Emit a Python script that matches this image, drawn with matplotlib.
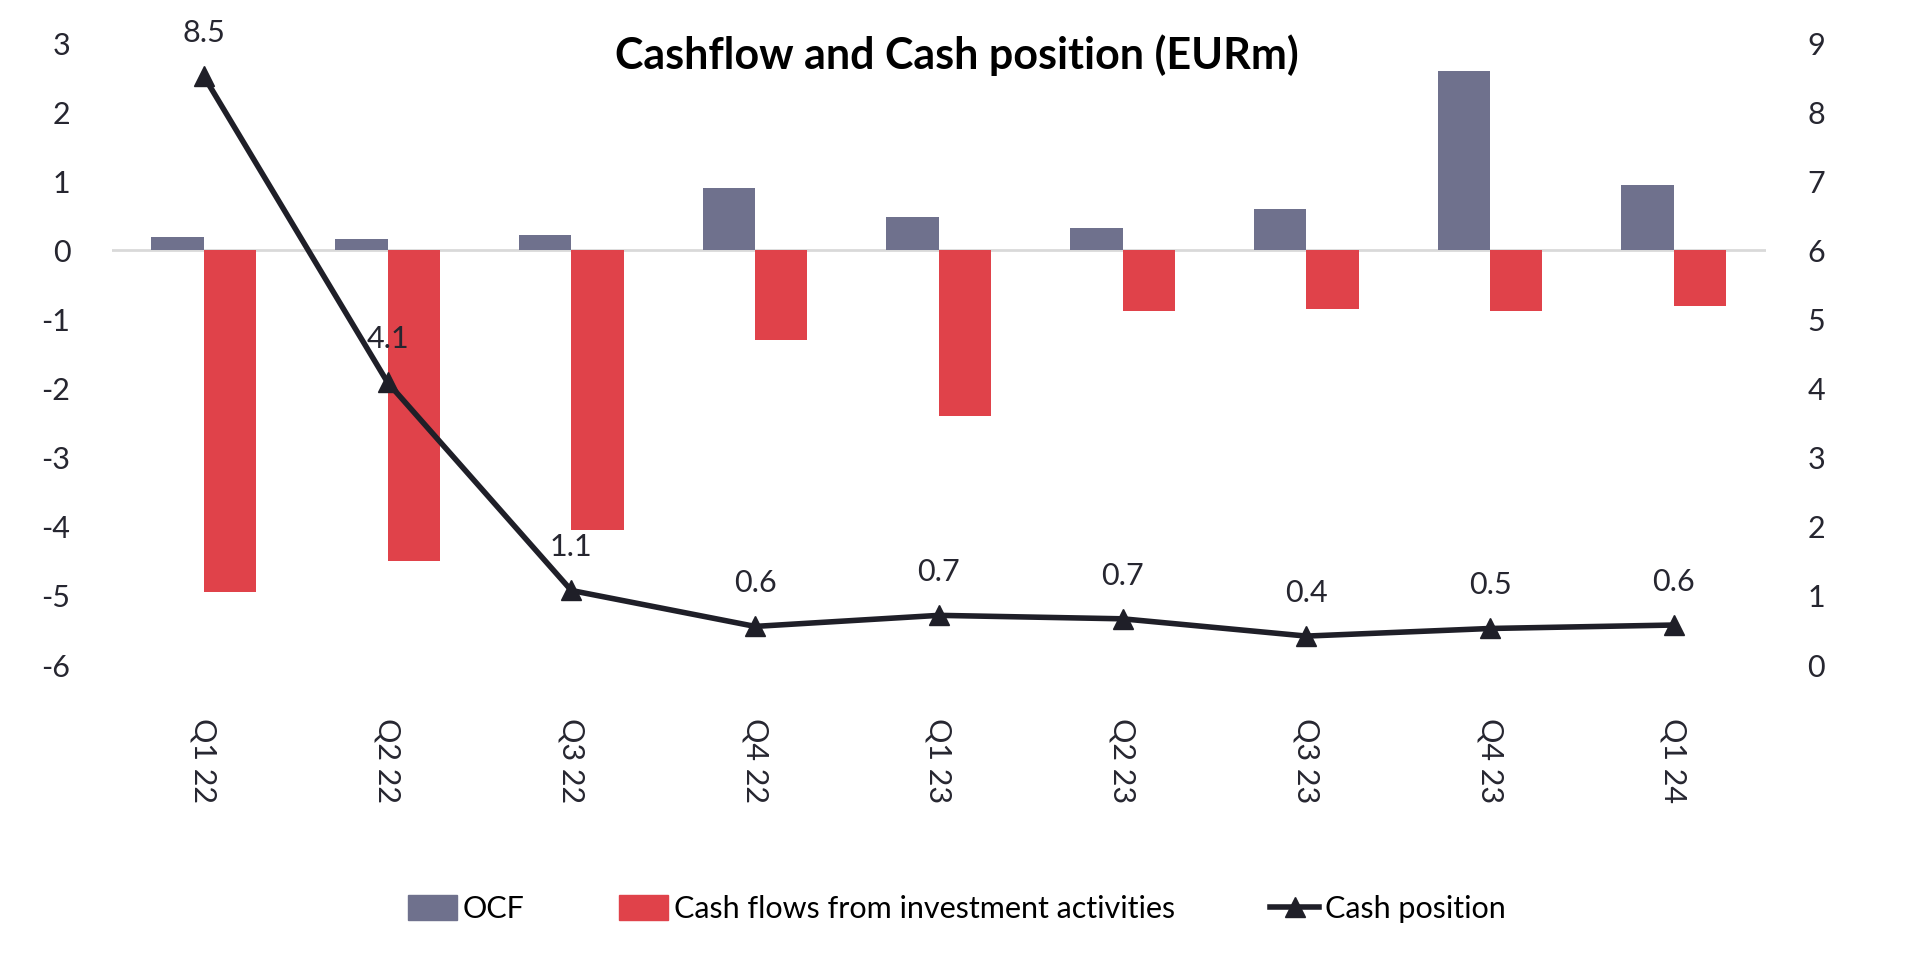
import matplotlib.pyplot as plt
import numpy as np
from matplotlib.patches import Patch
from matplotlib.lines import Line2D

plt.rcParams['font.family'] = ['Lato', 'DejaVu Sans']
plt.rcParams['axes.unicode_minus'] = False

quarters = ['Q1 22', 'Q2 22', 'Q3 22', 'Q4 22', 'Q1 23', 'Q2 23', 'Q3 23', 'Q4 23', 'Q1 24']
ocf = [0.19, 0.16, 0.22, 0.90, 0.48, 0.32, 0.60, 2.60, 0.95]
invest = [-4.94, -4.50, -4.05, -1.29, -2.39, -0.88, -0.85, -0.87, -0.80]
cash = [8.52, 4.09, 1.08, 0.56, 0.72, 0.67, 0.42, 0.53, 0.58]

c_ocf = '#6f718d'
c_inv = '#e0424a'
c_line = '#1f1f28'
c_text = '#262630'
fs = 22

fig = plt.figure(figsize=(19.14, 9.57), dpi=100)
ax = fig.add_axes([0.0585, 0.305, 0.864, 0.65])
x = np.arange(len(quarters))
w = 0.285

ax.bar(x - w / 2, ocf, w, color=c_ocf, zorder=2)
ax.bar(x + w / 2, invest, w, color=c_inv, zorder=2)
ax.axhline(0, color='#d9d9d9', lw=2, zorder=1)
ax.set_ylim(-6, 3)
ax.set_yticks(range(-6, 4))
ax.set_xlim(-0.5, len(quarters) - 0.5)
ax.set_xticks(x)
ax.set_xticklabels(quarters, rotation=-90)
for s in ax.spines.values():
    s.set_visible(False)
ax.tick_params(axis='both', length=0, labelsize=fs, colors=c_text)
ax.tick_params(axis='y', pad=30)
ax.tick_params(axis='x', pad=38)

ax2 = ax.twinx()
ax2.plot(x, cash, color=c_line, lw=4, marker='^', ms=14, zorder=3)
ax2.set_ylim(0, 9)
ax2.set_yticks(range(0, 10))
for s in ax2.spines.values():
    s.set_visible(False)
ax2.tick_params(axis='y', length=0, labelsize=fs, colors=c_text, pad=30)
for xi, v in zip(x, cash):
    ax2.annotate(f'{v:.1f}', (xi, v), xytext=(0, 31), textcoords='offset points',
                 ha='center', va='center', fontsize=fs, color=c_text)

fig.text(0.5, 0.942, 'Cashflow and Cash position (EURm)', ha='center', va='center',
         fontsize=31, fontweight='bold', color='black')

handles = [Patch(color=c_ocf), Patch(color=c_inv),
           Line2D([], [], color=c_line, lw=4, marker='^', ms=14)]
fig.legend(handles, ['OCF', 'Cash flows from investment activities', 'Cash position'],
           loc='center', bbox_to_anchor=(0.5, 0.05), ncol=3, frameon=False,
           fontsize=fs, handlelength=1.6, handleheight=0.9, handletextpad=0.2,
           columnspacing=3.1)

fig.savefig('out.png', dpi=100)
